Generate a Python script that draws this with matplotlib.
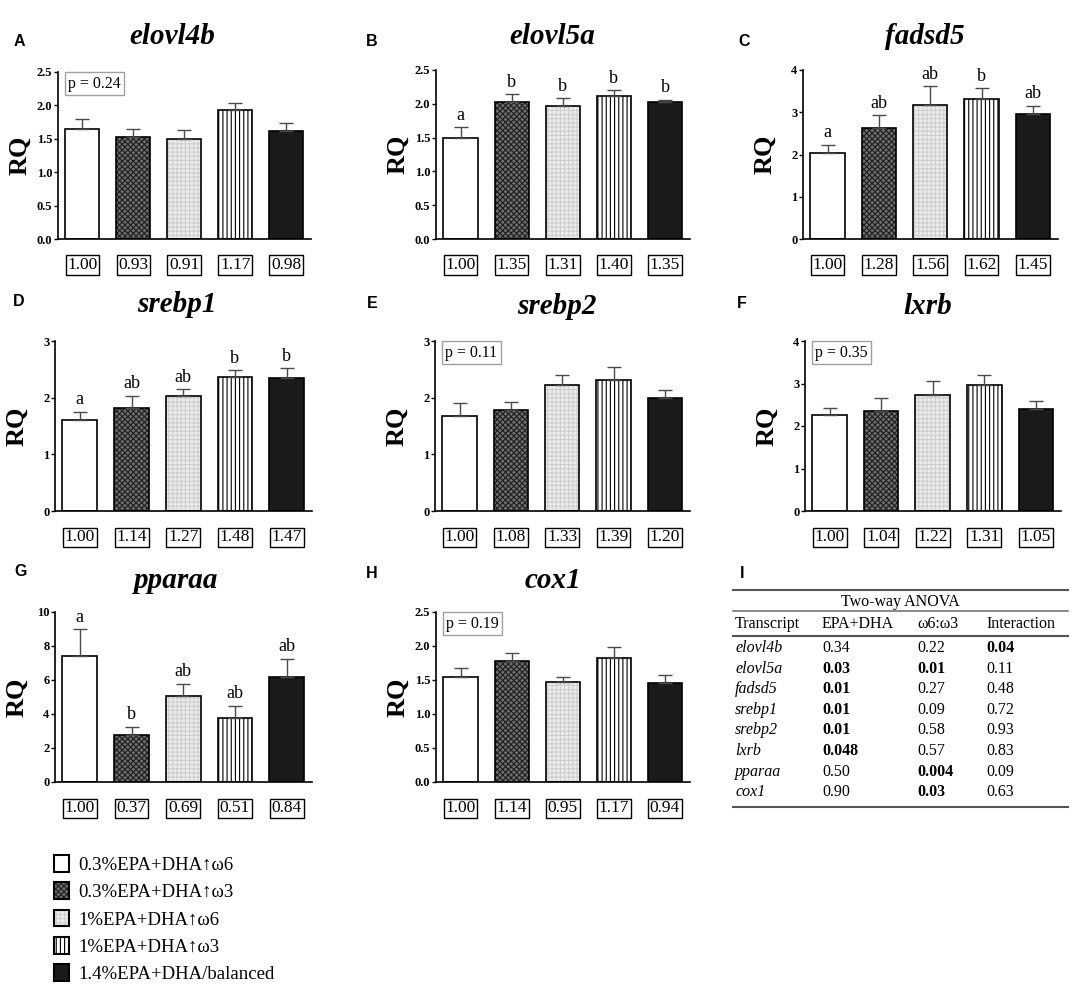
import matplotlib
matplotlib.use("Agg")
import matplotlib.pyplot as plt
from matplotlib.patches import Patch
from matplotlib.legend_handler import HandlerTuple

plt.rcParams["font.family"] = ["Liberation Serif", "DejaVu Serif"]
plt.rcParams["hatch.linewidth"] = 0.8

W, H = 1084, 1000

# ---- data ----
GROUPS = [
    "0.3%EPA+DHA\u2191\u03c96",
    "0.3%EPA+DHA\u2191\u03c93",
    "1%EPA+DHA\u2191\u03c96",
    "1%EPA+DHA\u2191\u03c93",
    "1.4%EPA+DHA/balanced",
]
PANEL_IDS = ["A", "B", "C", "D", "E", "F", "G", "H"]
GENES = ["elovl4b", "elovl5a", "fadsd5", "srebp1", "srebp2", "lxrb", "pparaa", "cox1"]
MEANS = [
    [1.64, 1.53, 1.50, 1.93, 1.61],
    [1.50, 2.03, 1.97, 2.11, 2.02],
    [2.04, 2.62, 3.18, 3.31, 2.97],
    [1.60, 1.81, 2.03, 2.36, 2.35],
    [1.67, 1.79, 2.23, 2.32, 2.00],
    [2.27, 2.36, 2.74, 2.96, 2.40],
    [7.40, 2.76, 5.08, 3.78, 6.20],
    [1.55, 1.78, 1.47, 1.83, 1.46],
]
SEMS = [
    [0.15, 0.11, 0.13, 0.11, 0.13],
    [0.15, 0.11, 0.11, 0.09, 0.04],
    [0.19, 0.31, 0.43, 0.26, 0.18],
    [0.15, 0.22, 0.12, 0.12, 0.17],
    [0.23, 0.14, 0.17, 0.23, 0.14],
    [0.15, 0.30, 0.32, 0.25, 0.19],
    [1.58, 0.49, 0.71, 0.69, 1.06],
    [0.12, 0.12, 0.08, 0.16, 0.11],
]
FOLDS = [
    ["1.00", "0.93", "0.91", "1.17", "0.98"],
    ["1.00", "1.35", "1.31", "1.40", "1.35"],
    ["1.00", "1.28", "1.56", "1.62", "1.45"],
    ["1.00", "1.14", "1.27", "1.48", "1.47"],
    ["1.00", "1.08", "1.33", "1.39", "1.20"],
    ["1.00", "1.04", "1.22", "1.31", "1.05"],
    ["1.00", "0.37", "0.69", "0.51", "0.84"],
    ["1.00", "1.14", "0.95", "1.17", "0.94"],
]
LETTERS = [
    None,
    ["a", "b", "b", "b", "b"],
    ["a", "ab", "ab", "b", "ab"],
    ["a", "ab", "ab", "b", "b"],
    None,
    None,
    ["a", "b", "ab", "ab", "ab"],
    None,
]
PVALS = ["0.24", None, None, None, "0.11", "0.35", None, "0.19"]
YMAX = [2.5, 2.5, 4, 3, 3, 4, 10, 2.5]
YSTEP = [0.5, 0.5, 1, 1, 1, 1, 2, 0.5]

# two-way ANOVA table (panel I)
ANOVA_HEAD = ["Transcript", "EPA+DHA", "\u03c96:\u03c93", "Interaction"]
ANOVA_EPA = ["0.34", "0.03", "0.01", "0.01", "0.01", "0.048", "0.50", "0.90"]
ANOVA_RATIO = ["0.22", "0.01", "0.27", "0.09", "0.58", "0.57", "0.004", "0.03"]
ANOVA_INTER = ["0.04", "0.11", "0.48", "0.72", "0.93", "0.83", "0.09", "0.63"]

# ---- layout (pixels) ----
AX_BOX = [  # left, top, right, bottom
    (58, 72, 311, 239), (436, 70, 690, 239), (803, 70, 1058, 239),
    (55, 341, 312, 511), (435, 341, 690, 511), (805, 341, 1061, 511),
    (55, 612, 312, 782), (436, 612, 690, 782),
]
TITLE_XY = [(172, 37), (552, 37), (925, 37), (177, 305), (557, 306), (928, 306),
            (175, 581), (553, 581)]
LETTER_XY = [(19, 42), (372, 41), (744, 41), (19, 302), (372, 303), (742, 303),
             (21, 571), (372, 573), (742, 573)]

# fill, hatch, hatch colour
STYLES = [
    ("white", "", "white"),
    ("#6e6e6e", "xxxxxx", "#1e1e1e"),
    ("#ececec", "++++", "#cfcfcf"),
    ("white", "||||", "black"),
    ("#1a1a1a", "", "#1a1a1a"),
]

fig = plt.figure(figsize=(W / 100, H / 100), dpi=100)
over = fig.add_axes([0, 0, 1, 1], zorder=-1)
over.set_xlim(0, W)
over.set_ylim(H, 0)
over.axis("off")

for k, gene in enumerate(GENES):
    l, t, r, b = AX_BOX[k]
    ax = fig.add_axes([l / W, 1 - b / H, (r - l) / W, (b - t) / H])
    m, s = MEANS[k], SEMS[k]
    x = list(range(len(m)))
    for i, (fc, hatch, hc) in enumerate(STYLES):
        ax.bar(i, m[i], width=0.67, color=fc, hatch=hatch, edgecolor=hc,
               linewidth=0, zorder=2)
    ax.bar(x, m, width=0.67, fill=False, edgecolor="black", linewidth=1.2, zorder=3)
    ax.errorbar(x, m, yerr=[[0] * len(m), s], fmt="none", ecolor="#4a4a4a",
                elinewidth=1, capsize=5, capthick=1, zorder=4)
    ax.set_xlim(-0.48, 4.49)
    ax.set_ylim(0, YMAX[k])
    n = int(round(YMAX[k] / YSTEP[k]))
    ticks = [j * YSTEP[k] for j in range(n + 1)]
    fmt = "{:.1f}" if YSTEP[k] < 1 else "{:g}"
    ax.set_yticks(ticks, [fmt.format(v) for v in ticks], fontweight="bold")
    ax.set_xticks([])
    ax.tick_params(axis="y", direction="out", length=3, width=1, labelsize=9, pad=1)
    for side in ("top", "right"):
        ax.spines[side].set_visible(False)
    for side in ("left", "bottom"):
        ax.spines[side].set_linewidth(1.2)
    ax.set_ylabel("RQ", fontsize=19, fontweight="bold")
    ax.yaxis.set_label_coords(-0.105, 0.5)

    if LETTERS[k]:
        for i, let in enumerate(LETTERS[k]):
            ax.annotate(let, (i, m[i] + s[i]), xytext=(0, 5.5),
                        textcoords="offset points", ha="center", va="baseline",
                        fontsize=13)
    if PVALS[k]:
        ax.text(0.04, 0.93, f"p = {PVALS[k]}", transform=ax.transAxes,
                ha="left", va="center", fontsize=11.5,
                bbox=dict(boxstyle="square,pad=0.22", fc="white", ec="#a0a0a0", lw=1))
    for i, f in enumerate(FOLDS[k]):
        ax.text(i, -0.155, f, transform=ax.get_xaxis_transform(), ha="center",
                va="center", fontsize=12.5, clip_on=False,
                bbox=dict(boxstyle="square,pad=0.1", fc="white", ec="black", lw=1))

    tx, ty = TITLE_XY[k]
    over.text(tx, ty, gene, ha="center", va="center", fontsize=21,
              fontweight="bold", fontstyle="italic")

for lab, (lx, ly) in zip(PANEL_IDS + ["I"], LETTER_XY):
    over.text(lx, ly, lab, ha="center", va="center", fontsize=11.5,
              fontweight="bold", family="Liberation Sans")

# ---- panel I table ----
tl, tr = 733, 1068
col_x = [735, 822, 917, 986]
over.plot([tl, tr], [590, 590], color="#555555", lw=1.5)
over.text((tl + tr) / 2, 602, "Two-way ANOVA", ha="center", va="center", fontsize=11.5)
over.plot([tl, tr], [611, 611], color="#777777", lw=1.2)
for cx, h in zip(col_x, ANOVA_HEAD):
    over.text(cx, 624, h, ha="left", va="center", fontsize=11.5)
over.plot([tl, tr], [636, 636], color="#555555", lw=1.5)
for i, gene in enumerate(GENES):
    y = 648 + i * 20.6
    over.text(col_x[0], y, gene, ha="left", va="center", fontsize=11.5,
              fontstyle="italic")
    for cx, v in zip(col_x[1:], (ANOVA_EPA[i], ANOVA_RATIO[i], ANOVA_INTER[i])):
        over.text(cx, y, v, ha="left", va="center", fontsize=11.5,
                  fontweight="bold" if float(v) < 0.05 else "normal")
over.plot([tl, tr], [807, 807], color="#555555", lw=1.5)

# ---- legend ----
handles = []
for fc, hatch, hc in STYLES:
    handles.append((Patch(facecolor=fc, hatch=hatch, edgecolor=hc, linewidth=0),
                    Patch(fill=False, edgecolor="black", linewidth=1.5)))
fig.legend(handles, GROUPS, loc="upper left", bbox_to_anchor=(54 / W, 1 - 855 / H),
           frameon=False, fontsize=13.5, handlelength=0.8, handleheight=1.0,
           handletextpad=0.5, labelspacing=0.45, borderpad=0, borderaxespad=0,
           handler_map={tuple: HandlerTuple(ndivide=1)})

fig.savefig("out.png", dpi=100)
